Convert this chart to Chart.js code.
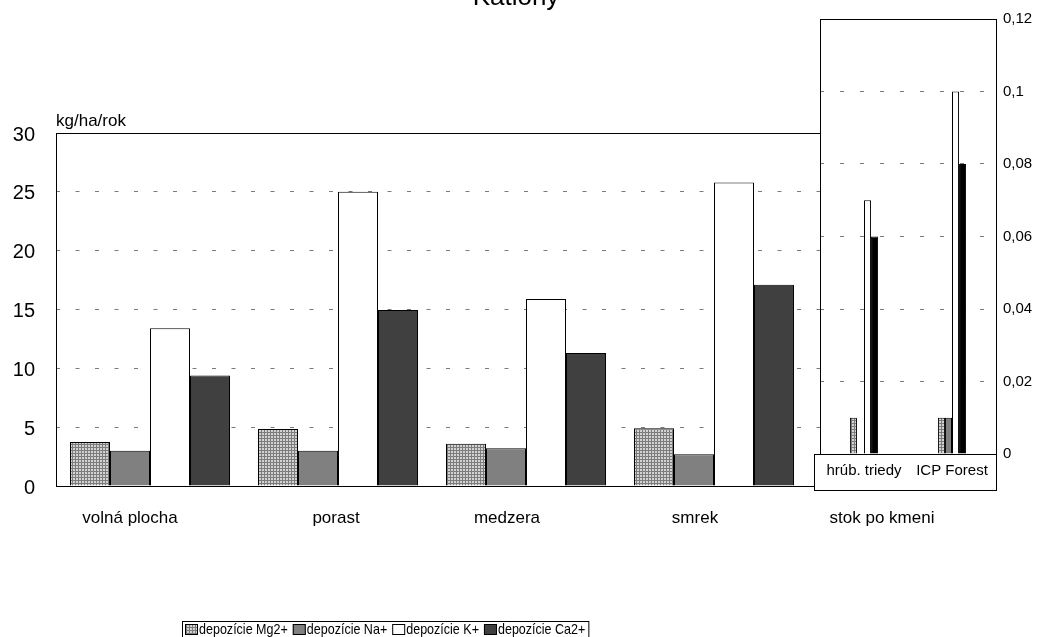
<!DOCTYPE html>
<html>
<head>
<meta charset="utf-8">
<script src="https://cdn.jsdelivr.net/npm/chart.js@4.4.1/dist/chart.umd.min.js"></script>
<style>
  html, body { margin: 0; padding: 0; background: #fff; }
  #wrap { position: relative; width: 1040px; height: 637px; overflow: hidden; background: #fff; }
  #main { position: absolute; left: 0; top: 0; }
  #inset { position: absolute; left: 812px; top: 0; }
</style>
</head>
<body>
<div id="wrap">
  <canvas id="main" width="1040" height="637"></canvas>
  <canvas id="inset" width="228" height="495"></canvas>
</div>
<script>
// Deposition per site (kg/ha/rok)
const categories = ['volná plocha', 'porast', 'medzera', 'smrek', 'stok po kmeni'];
const mgValues = [3.75, 4.85, 3.6, 4.9, null];
const naValues = [3.0, 3.0, 3.2, 2.7, null];
const kValues  = [13.4, 25.0, 15.9, 25.8, null];
const caValues = [9.4, 14.95, 11.3, 17.1, null];
const yTicks = [0, 5, 10, 15, 20, 25, 30];

// Stemflow (stok po kmeni), own scale on the right
const stemCategories = ['hrúb. triedy', 'ICP Forest'];
const stemMg = [0.01, 0.01];
const stemNa = [null, 0.01];
const stemK  = [0.07, 0.1];
const stemCa = [0.06, 0.08];
const stemTicks = [0, 0.02, 0.04, 0.06, 0.08, 0.1, 0.12];

const seriesNames = ['depozície Mg2+', 'depozície Na+', 'depozície K+', 'depozície Ca2+'];
const unitLabel = 'kg/ha/rok';
const titleText = 'Katióny';

const FONT = '"Liberation Sans", Arial, sans-serif';

// fine gray mesh used for the Mg2+ series
function meshPattern() {
  const c = document.createElement('canvas');
  c.width = 3; c.height = 3;
  const g = c.getContext('2d');
  g.fillStyle = '#d2d2d2';
  g.fillRect(0, 0, 3, 3);
  g.fillStyle = '#7c7c7c';
  g.fillRect(0, 0, 3, 1);
  g.fillRect(0, 0, 1, 3);
  return g.createPattern(c, 'repeat');
}
const mgFill = meshPattern();
const naFill = '#808080';
const kFill = '#ffffff';
const caFill = '#404040';
const caStemFill = '#000000';

const gridColor = (edgeValues) => (ctx) =>
  (ctx.tick && edgeValues.includes(ctx.tick.value)) ? 'rgba(0,0,0,0)' : '#7a7a7a';

// category captions sit a little left of the bar groups
const captionShift = [-20, -2, -19, -19, -20];

// plot frame, captions, title, unit label and legend for the main chart
const mainDecor = {
  id: 'mainDecor',
  afterDraw(chart) {
    const { ctx, chartArea: a } = chart;
    const xs = chart.scales.x;
    ctx.save();
    ctx.strokeStyle = '#000';
    ctx.lineWidth = 1;
    ctx.strokeRect(Math.round(a.left) + 0.5, Math.round(a.top) + 0.5,
                   Math.round(a.right - a.left), Math.round(a.bottom - a.top));

    ctx.fillStyle = '#000';
    ctx.font = '17px ' + FONT;
    ctx.textAlign = 'center';
    ctx.textBaseline = 'middle';
    categories.forEach((c, i) => {
      ctx.fillText(c, xs.getPixelForValue(i) + captionShift[i], 518);
    });

    ctx.font = '26px ' + FONT;
    ctx.textAlign = 'center';
    ctx.textBaseline = 'alphabetic';
    ctx.fillText(titleText, 516, 5);

    ctx.font = '17px ' + FONT;
    ctx.textAlign = 'left';
    ctx.fillText(unitLabel, 56, 126);

    // legend
    const fills = [mgFill, naFill, kFill, caFill];
    const squeeze = 0.835;
    ctx.font = '15px ' + FONT;
    ctx.textBaseline = 'middle';
    let x = 185;
    const boxTop = 621;
    const items = [];
    seriesNames.forEach((name, i) => {
      items.push({ x, name, fill: fills[i] });
      x += 14 + ctx.measureText(name).width * squeeze + 5;
    });
    const right = x - 2;
    ctx.fillStyle = '#fff';
    ctx.fillRect(182, boxTop, right - 182, 40);
    ctx.strokeRect(182.5, boxTop + 0.5, right - 182, 40);
    items.forEach(it => {
      ctx.fillStyle = it.fill;
      ctx.fillRect(it.x, boxTop + 3, 13, 11);
      ctx.strokeStyle = '#000';
      ctx.strokeRect(it.x + 0.5, boxTop + 3.5, 12, 10);
      ctx.fillStyle = '#000';
      ctx.save();
      ctx.translate(it.x + 14, boxTop + 9);
      ctx.scale(squeeze, 1);
      ctx.fillText(it.name, 0, 0);
      ctx.restore();
    });
    ctx.restore();
  }
};

new Chart(document.getElementById('main'), {
  type: 'bar',
  data: {
    labels: categories,
    datasets: [
      { label: seriesNames[0], data: mgValues, backgroundColor: mgFill },
      { label: seriesNames[1], data: naValues, backgroundColor: naFill },
      { label: seriesNames[2], data: kValues,  backgroundColor: kFill },
      { label: seriesNames[3], data: caValues, backgroundColor: caFill }
    ]
  },
  options: {
    responsive: false,
    animation: false,
    devicePixelRatio: 1,
    layout: { padding: { top: 133, right: 44, left: 0, bottom: 0 } },
    datasets: { bar: { categoryPercentage: 0.851, barPercentage: 1, borderColor: '#000', borderWidth: 1 } },
    plugins: { legend: { display: false }, tooltip: { enabled: false } },
    scales: {
      x: {
        grid: { display: false },
        border: { display: false },
        ticks: { display: false },
        afterFit: (s) => { s.height = 151; }
      },
      y: {
        min: 0, max: 30,
        afterBuildTicks: (s) => { s.ticks = yTicks.map(v => ({ value: v })); },
        grid: { color: gridColor([0, 30]), lineWidth: 1, drawTicks: false },
        border: { display: false, dash: [4, 15.5] },
        ticks: { color: '#000', font: { family: FONT, size: 20 }, padding: 21, labelOffset: 2 },
        afterFit: (s) => { s.width = 56; }
      }
    }
  },
  plugins: [mainDecor]
});

// white panel with frame and a boxed category strip for the stemflow chart
const insetDecor = {
  id: 'insetDecor',
  beforeDraw(chart) {
    const { ctx, chartArea: a } = chart;
    ctx.save();
    ctx.fillStyle = '#fff';
    ctx.fillRect(a.left, a.top, a.right - a.left + 1, a.bottom - a.top);
    ctx.fillRect(2, a.bottom, a.right + 1 - 2, 490 - a.bottom + 1);
    ctx.restore();
  },
  afterDraw(chart) {
    const { ctx, chartArea: a } = chart;
    ctx.save();
    ctx.strokeStyle = '#000';
    ctx.lineWidth = 1;
    ctx.strokeRect(2.5, Math.round(a.bottom) + 0.5, Math.round(a.right) - 2, 490 - Math.round(a.bottom));
    ctx.strokeRect(Math.round(a.left) + 0.5, Math.round(a.top) + 0.5,
                   Math.round(a.right - a.left), Math.round(a.bottom - a.top));
    ctx.restore();
  }
};

new Chart(document.getElementById('inset'), {
  type: 'bar',
  data: {
    labels: stemCategories,
    datasets: [
      { label: seriesNames[0], data: stemMg, backgroundColor: mgFill },
      { label: seriesNames[1], data: stemNa, backgroundColor: naFill },
      { label: seriesNames[2], data: stemK,  backgroundColor: kFill },
      { label: seriesNames[3], data: stemCa, backgroundColor: caStemFill }
    ]
  },
  options: {
    responsive: false,
    animation: false,
    devicePixelRatio: 1,
    layout: { padding: { top: 19, right: 0, left: 8, bottom: 0 } },
    datasets: { bar: { categoryPercentage: 0.32, barPercentage: 1, borderColor: '#000', borderWidth: 1 } },
    plugins: { legend: { display: false }, tooltip: { enabled: false } },
    scales: {
      x: {
        grid: { display: false },
        border: { display: false },
        ticks: { color: '#000', font: { family: FONT, size: 15 }, padding: 0, maxRotation: 0, autoSkip: false },
        afterFit: (s) => { s.height = 41; }
      },
      y: {
        position: 'right',
        min: 0, max: 0.12,
        afterBuildTicks: (s) => { s.ticks = stemTicks.map(v => ({ value: v })); },
        grid: { color: gridColor([0, 0.12]), lineWidth: 1, drawTicks: false },
        border: { display: false, dash: [4, 16] },
        ticks: {
          color: '#000', font: { family: FONT, size: 15 }, padding: 7,
          callback: (v) => String(v).replace('.', ',')
        },
        afterFit: (s) => { s.width = 44; }
      }
    }
  },
  plugins: [insetDecor]
});
</script>
</body>
</html>
